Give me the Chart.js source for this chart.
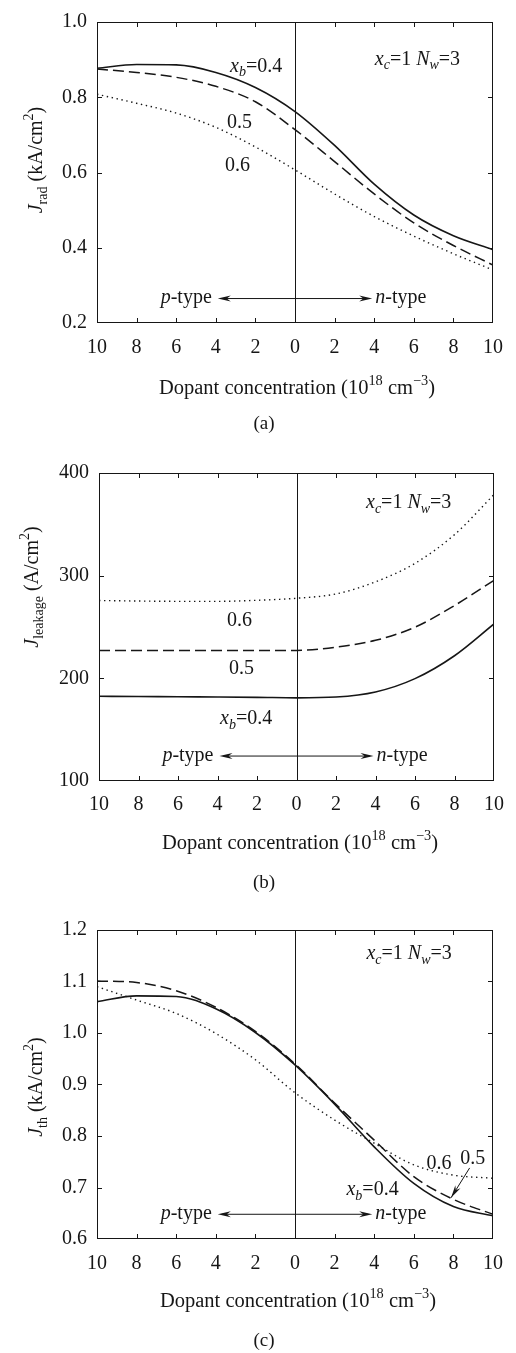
<!DOCTYPE html>
<html>
<head>
<meta charset="utf-8">
<script src="https://cdn.jsdelivr.net/npm/chart.js@4.4.1/dist/chart.umd.min.js"></script>
<style>
  html, body { margin: 0; padding: 0; background: #fff; }
  .panel { position: absolute; left: 0; width: 516px; height: 451px; }
</style>
</head>
<body>
<div class="panel" style="top:0"><canvas id="chartA" width="516" height="451"></canvas></div>
<div class="panel" style="top:451px"><canvas id="chartB" width="516" height="451"></canvas></div>
<div class="panel" style="top:902px"><canvas id="chartC" width="516" height="451"></canvas></div>
<script>
// ── Données ──
// axe x : p-type à gauche (négatif), n-type à droite (positif), en 1e18 cm^-3
const dopant = [-10, -8, -6, -4, -2, 0, 2, 4, 6, 8, 10];

// (a) J_rad en kA/cm2
const jradXb04 = [0.877, 0.887, 0.886, 0.866, 0.826, 0.762, 0.672, 0.569, 0.487, 0.432, 0.395];
const jradXb05 = [0.875, 0.866, 0.853, 0.829, 0.788, 0.714, 0.629, 0.543, 0.466, 0.406, 0.354];
const jradXb06 = [0.808, 0.784, 0.758, 0.720, 0.668, 0.607, 0.543, 0.483, 0.431, 0.384, 0.341];

// (b) J_leakage en A/cm2
const jleakXb04 = [182.5, 182.3, 182.0, 181.8, 181.5, 181.0, 181.8, 186.7, 199.7, 222.0, 253.0];
const jleakXb05 = [227.2, 227.2, 227.0, 227.0, 227.0, 227.2, 230.4, 237.0, 249.8, 270.9, 295.5];
const jleakXb06 = [275.8, 275.3, 275.0, 275.0, 276.0, 278.0, 282.2, 294.0, 312.0, 340.0, 379.0];

// (c) J_th en kA/cm2
const jthXb04 = [1.061, 1.072, 1.071, 1.047, 1.001, 0.938, 0.862, 0.779, 0.708, 0.663, 0.645];
const jthXb05 = [1.101, 1.098, 1.082, 1.050, 1.003, 0.940, 0.864, 0.792, 0.721, 0.677, 0.648];
const jthXb06 = [1.090, 1.064, 1.038, 0.999, 0.948, 0.884, 0.831, 0.786, 0.744, 0.724, 0.718];

// ticks
const xTicks = [-10, -8, -6, -4, -2, 0, 2, 4, 6, 8, 10];
const jradTicks = [0.2, 0.4, 0.6, 0.8, 1.0];
const jleakTicks = [100, 200, 300, 400];
const jthTicks = [0.6, 0.7, 0.8, 0.9, 1.0, 1.1, 1.2];

// flèche p-type / n-type (extrémités en x, hauteur par panneau)
const typeArrowX = [-3.9, 3.9];
const typeArrowY = { a: 0.265, b: 124.3, c: 0.648 };

const SERIF = "'Liberation Serif', 'DejaVu Serif', serif";
const INK = '#161616';
const W = 516, H = 451;

// ── Texte « riche » (italique, indices, exposants) ──
const R = t => ({ t });
const I = t => ({ t, it: true });
const SUB = (t, it) => ({ t, sub: true, it });
const SUP = t => ({ t, sup: true });

function setFont(ctx, size, italic) {
  ctx.font = (italic ? 'italic ' : '') + size + 'px ' + SERIF;
}
function partSize(p, size) { return (p.sub || p.sup) ? size * 0.7 : size; }

function richWidth(ctx, parts, size) {
  let w = 0;
  parts.forEach(p => { setFont(ctx, partSize(p, size), p.it); w += ctx.measureText(p.t).width; });
  return w;
}

// y = centre visuel du texte principal
function drawRich(ctx, parts, x, y, size, align) {
  const base = y + size * 0.34;
  let cx = x;
  if (align === 'center') cx -= richWidth(ctx, parts, size) / 2;
  if (align === 'right') cx -= richWidth(ctx, parts, size);
  ctx.textAlign = 'left';
  ctx.textBaseline = 'alphabetic';
  parts.forEach(p => {
    setFont(ctx, partSize(p, size), p.it);
    let dy = 0;
    if (p.sub) dy = size * 0.24;
    if (p.sup) dy = -size * 0.42;
    ctx.fillText(p.t, cx, base + dy);
    cx += ctx.measureText(p.t).width;
  });
}

function arrowHead(ctx, x, y, angle) {
  ctx.save();
  ctx.translate(x, y);
  ctx.rotate(angle);
  ctx.beginPath();
  ctx.moveTo(0, 0);
  ctx.lineTo(-13, -3);
  ctx.lineTo(-9, 0);
  ctx.lineTo(-13, 3);
  ctx.closePath();
  ctx.fill();
  ctx.restore();
}

const paramLabel = [I('x'), SUB('c', true), R('=1 '), I('N'), SUB('w', true), R('=3')];
const xbLabel = [I('x'), SUB('b', true), R('=0.4')];
const xTitle = [R('Dopant concentration (10'), SUP('18'), R(' cm'), SUP('\u22123'), R(')')];

// ── Plugin de décor : cadre, ticks intérieurs, ligne x=0, flèches, textes ──
function decor(cfg) {
  return {
    id: 'decor',
    afterDraw(chart) {
      const ctx = chart.ctx;
      const xs = chart.scales.x, ys = chart.scales.y;
      const a = chart.chartArea;
      ctx.save();
      ctx.strokeStyle = INK;
      ctx.fillStyle = INK;
      ctx.lineWidth = 1;

      // cadre
      ctx.strokeRect(a.left + 0.5, a.top + 0.5, a.right - a.left - 1, a.bottom - a.top - 1);

      // ticks vers l'intérieur
      ctx.beginPath();
      xTicks.slice(1, -1).forEach(v => {
        const px = Math.round(xs.getPixelForValue(v)) + 0.5;
        ctx.moveTo(px, a.bottom); ctx.lineTo(px, a.bottom - 5);
        ctx.moveTo(px, a.top); ctx.lineTo(px, a.top + 5);
      });
      cfg.yTicks.slice(1, -1).forEach(v => {
        const py = Math.round(ys.getPixelForValue(v)) + 0.5;
        ctx.moveTo(a.left, py); ctx.lineTo(a.left + 5, py);
        ctx.moveTo(a.right, py); ctx.lineTo(a.right - 5, py);
      });
      ctx.stroke();

      // ligne verticale x = 0
      const x0 = Math.round(xs.getPixelForValue(0)) + 0.5;
      ctx.beginPath();
      ctx.moveTo(x0, a.top); ctx.lineTo(x0, a.bottom);
      ctx.stroke();

      // flèche p-type / n-type
      const ay = ys.getPixelForValue(cfg.arrowY);
      const xl = xs.getPixelForValue(typeArrowX[0]);
      const xr = xs.getPixelForValue(typeArrowX[1]);
      ctx.beginPath();
      ctx.moveTo(xl + 4, ay); ctx.lineTo(xr - 4, ay);
      ctx.stroke();
      arrowHead(ctx, xl, ay, Math.PI);
      arrowHead(ctx, xr, ay, 0);
      drawRich(ctx, [I('p'), R('-type')], xl - 6, ay - 2, 20, 'right');
      drawRich(ctx, [I('n'), R('-type')], xr + 3, ay - 2, 20, 'left');

      // étiquettes des courbes
      cfg.labels.forEach(l => {
        drawRich(ctx, l.parts, xs.getPixelForValue(l.x), ys.getPixelForValue(l.y), 20, 'left');
      });

      // flèche d'annotation éventuelle
      (cfg.pointers || []).forEach(p => {
        const sx = xs.getPixelForValue(p.from[0]), sy = ys.getPixelForValue(p.from[1]);
        const ex = xs.getPixelForValue(p.to[0]), ey = ys.getPixelForValue(p.to[1]);
        ctx.beginPath();
        ctx.moveTo(sx, sy); ctx.lineTo(ex, ey);
        ctx.stroke();
        arrowHead(ctx, ex, ey, Math.atan2(ey - sy, ex - sx));
      });

      // titres et légende (a)/(b)/(c)
      drawRich(ctx, xTitle, cfg.xTitlePos[0], cfg.xTitlePos[1], 20.5, 'center');
      ctx.save();
      ctx.translate(cfg.yTitlePos[0], cfg.yTitlePos[1]);
      ctx.rotate(-Math.PI / 2);
      drawRich(ctx, cfg.yTitle, 0, 0, 20, 'center');
      ctx.restore();
      drawRich(ctx, [R(cfg.caption)], 264, cfg.captionY, 19, 'center');

      ctx.restore();
    }
  };
}

const lineStyles = [
  { width: 1.6, dash: [] },
  { width: 1.5, dash: [11, 5] },
  { width: 1.4, dash: [1.4, 3.6] }
];

function makePanel(id, cfg) {
  new Chart(document.getElementById(id), {
    type: 'line',
    data: {
      datasets: cfg.series.map((vals, k) => ({
        data: dopant.map((x, i) => ({ x, y: vals[i] })),
        borderColor: INK,
        borderWidth: lineStyles[k].width,
        borderDash: lineStyles[k].dash,
        pointRadius: 0,
        cubicInterpolationMode: 'monotone',
        fill: false
      }))
    },
    options: {
      responsive: false,
      animation: false,
      events: [],
      layout: { padding: { top: cfg.box.top, right: W - cfg.box.right, left: 0, bottom: 0 } },
      plugins: { legend: { display: false }, tooltip: { enabled: false } },
      scales: {
        x: {
          type: 'linear', min: -10, max: 10,
          grid: { display: false, drawTicks: false }, border: { display: false },
          afterBuildTicks: s => { s.ticks = xTicks.map(v => ({ value: v })); },
          ticks: {
            padding: cfg.xPad, color: INK, maxRotation: 0, autoSkip: false,
            font: { family: SERIF, size: 20 },
            callback: v => String(Math.abs(v))
          },
          afterFit: s => { s.height = H - cfg.box.bottom; }
        },
        y: {
          type: 'linear', min: cfg.yTicks[0], max: cfg.yTicks[cfg.yTicks.length - 1],
          grid: { display: false, drawTicks: false }, border: { display: false },
          afterBuildTicks: s => { s.ticks = cfg.yTicks.map(v => ({ value: v })); },
          ticks: {
            padding: 10, color: INK, autoSkip: false,
            font: { family: SERIF, size: 20 },
            callback: v => v.toFixed(cfg.decimals)
          },
          afterFit: s => { s.width = cfg.box.left; }
        }
      }
    },
    plugins: [decor(cfg)]
  });
}

// ── (a) ──
makePanel('chartA', {
  box: { top: 13, bottom: 323, left: 97, right: 499 },
  series: [jradXb04, jradXb05, jradXb06],
  yTicks: jradTicks, decimals: 1, xPad: 13,
  arrowY: typeArrowY.a,
  labels: [
    { parts: xbLabel, x: -3.28, y: 0.886 },
    { parts: [R('0.5')], x: -3.43, y: 0.737 },
    { parts: [R('0.6')], x: -3.53, y: 0.621 },
    { parts: paramLabel, x: 4.03, y: 0.905 }
  ],
  xTitlePos: [297, 387], yTitlePos: [35, 160], captionY: 423,
  yTitle: [I('J'), SUB('rad'), R(' (kA/cm'), SUP('2'), R(')')],
  caption: '(a)'
});

// ── (b) ──
makePanel('chartB', {
  box: { top: 21, bottom: 330, left: 99, right: 502 },
  series: [jleakXb04, jleakXb05, jleakXb06],
  yTicks: jleakTicks, decimals: 0, xPad: 12,
  arrowY: typeArrowY.b,
  labels: [
    { parts: paramLabel, x: 3.52, y: 372.8 },
    { parts: [R('0.6')], x: -3.52, y: 257.3 },
    { parts: [R('0.5')], x: -3.42, y: 210.7 },
    { parts: xbLabel, x: -3.87, y: 162 }
  ],
  xTitlePos: [300, 391], yTitlePos: [31, 136], captionY: 431,
  yTitle: [I('J'), SUB('leakage'), R(' (A/cm'), SUP('2'), R(')')],
  caption: '(b)'
});

// ── (c) ──
makePanel('chartC', {
  box: { top: 28, bottom: 337, left: 97, right: 500 },
  series: [jthXb04, jthXb05, jthXb06],
  yTicks: jthTicks, decimals: 1, xPad: 13,
  arrowY: typeArrowY.c,
  labels: [
    { parts: paramLabel, x: 3.61, y: 1.157 },
    { parts: [R('0.6')], x: 6.64, y: 0.749 },
    { parts: [R('0.5')], x: 8.35, y: 0.759 },
    { parts: xbLabel, x: 2.6, y: 0.699 }
  ],
  pointers: [{ from: [8.82, 0.738], to: [7.88, 0.680] }],
  xTitlePos: [298, 398], yTitlePos: [35, 185], captionY: 438,
  yTitle: [I('J'), SUB('th'), R(' (kA/cm'), SUP('2'), R(')')],
  caption: '(c)'
});
</script>
</body>
</html>
